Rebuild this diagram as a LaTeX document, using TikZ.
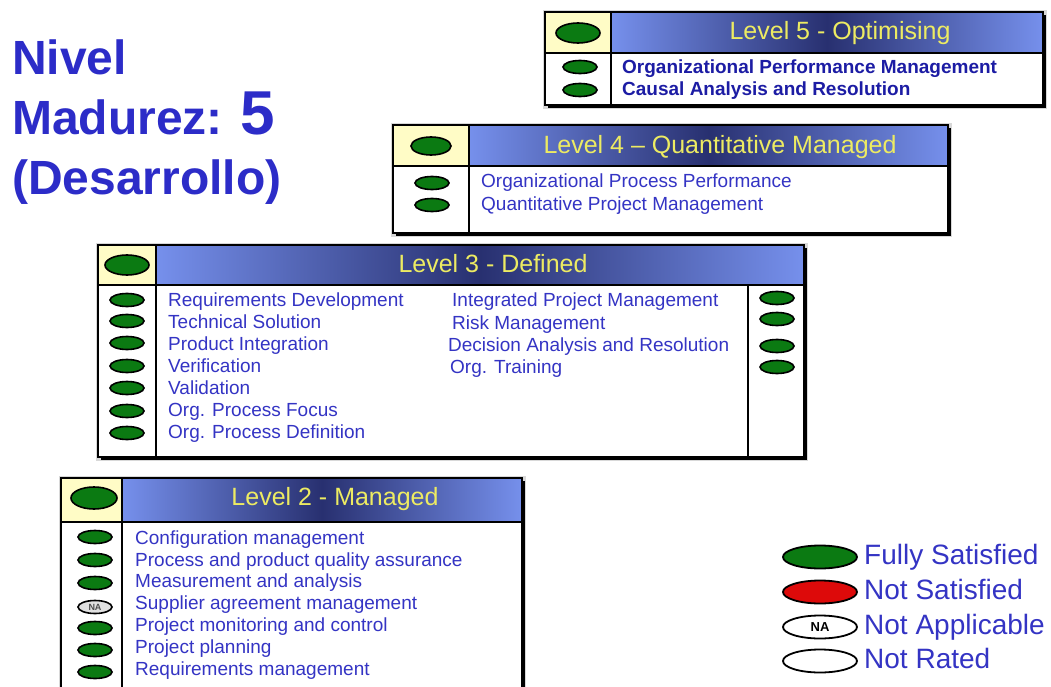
\documentclass[tikz,border=0pt]{standalone}
\usepackage{fontspec}
\setmainfont{Liberation Sans}
\usetikzlibrary{shapes.geometric}

\definecolor{okgreen}{HTML}{0B7A12}
\definecolor{nsred}{HTML}{DD0A0A}
\definecolor{hdredge}{HTML}{7690EC}
\definecolor{hdrmid}{HTML}{283070}
\definecolor{hdrtext}{HTML}{EDEB62}
\definecolor{cream}{HTML}{FFFCC6}
\definecolor{itemblue}{HTML}{3434C4}
\definecolor{navy}{HTML}{1C1CA4}
\definecolor{titleblue}{HTML}{2C2CC8}

% frame of one maturity level: x1,y1,x2,y2, x of divider, y of header bottom
\newcommand\levelframe[6]{%
  \fill[black!30, opacity=.5] (#1-2,#2-2) rectangle (#3+4,#4+4);
  \fill[black] (#1+3,#2+3) rectangle (#3+3,#4+3);
  \fill[white] (#1,#2) rectangle (#3,#4);
  \fill[cream] (#1,#2) rectangle (#5,#6);
  \shade[left color=hdredge, right color=hdredge, middle color=hdrmid] (#5,#2) rectangle (#3,#6);
  \draw[line width=2pt] (#1,#2) rectangle (#3,#4);
  \draw[line width=2pt] (#1,#6) -- (#3,#6);
  \draw[line width=2pt] (#5,#2) -- (#5,#4);
}

\tikzset{
  oval/.style={ellipse, draw=black, line width=1.6pt, inner sep=0pt,
    minimum width=34pt, minimum height=13pt},
  ok/.style={oval, fill=okgreen},
  bigok/.style={ok, minimum width=44pt, minimum height=20pt},
  na/.style={oval, fill=black!12, font=\fontsize{9}{9}\selectfont\bfseries, text=black!70},
  hdr/.style={font=\fontsize{25}{28}\selectfont, text=hdrtext, text height=18pt, text depth=5pt},
  item/.style={anchor=west, font=\fontsize{19}{21}\selectfont, text=itemblue, inner sep=0pt,
    text height=14pt, text depth=4pt},
  bolditem/.style={item, font=\fontsize{19}{21}\selectfont\bfseries, text=navy},
  legoval/.style={oval, line width=1.8pt, minimum width=74pt, minimum height=23pt},
  legtext/.style={anchor=west, font=\fontsize{28}{30}\selectfont, text=itemblue, inner sep=0pt,
    text height=20pt, text depth=6pt},
  title/.style={anchor=west, font=\fontsize{48}{50}\selectfont\bfseries, text=titleblue, inner sep=0pt,
    text height=35pt, text depth=10pt}
}

\begin{document}
\begin{tikzpicture}[x=1pt,y=-1pt]
\path[clip] (0,0) rectangle (1051,687);
\useasboundingbox (0,0) rectangle (1051,687);
\fill[white] (0,0) rectangle (1051,687);

% title
\node[title] (t1) at (12,62) {Nivel};
\node[title] (t2) at (12,122) {Madurez: {\fontsize{62}{62}\selectfont 5}};
\node[title] (t3) at (12,182) {(Desarrollo)};

% ---------- Level 5 ----------
\levelframe{545}{12}{1043}{105}{611}{53}
\node[bigok] (l5h) at (578,33) {};
\node[hdr] (l5t) at (840,33) {Level 5 - Optimising};
\node[ok] (l5a) at (580,67) {};
\node[ok] (l5b) at (580,90) {};
\node[bolditem] (l5i1) at (622,69) {Organizational Performance Management};
\node[bolditem] (l5i2) at (622,91) {Causal Analysis and Resolution};

% ---------- Level 4 ----------
\levelframe{393}{125}{948}{233}{469}{166}
\node[bigok, minimum width=40pt, minimum height=18pt] (l4h) at (431,146) {};
\node[hdr] (l4t) at (720,147) {Level 4 – Quantitative Managed};
\node[ok] (l4a) at (432,183) {};
\node[ok] (l4b) at (432,205) {};
\node[item] (l4i1) at (481,183) {Organizational Process Performance};
\node[item] (l4i2) at (481,205) {Quantitative Project Management};

% ---------- Level 3 ----------
\levelframe{98}{245}{804}{457}{156}{285}
\draw[line width=1.3pt] (748,285) -- (748,457);
\node[bigok] (l3h) at (127,265) {};
\node[hdr] (l3t) at (493,266) {Level 3 - Defined};
\foreach \y [count=\i] in {300,321,343,366,388,411,433}
  \node[ok] (l3l\i) at (127,\y) {};
\foreach \y [count=\i] in {298,319,346,367}
  \node[ok] (l3r\i) at (777,\y) {};
\node[item] (l3a) at (168,301) {Requirements Development};
\node[item] (l3b) at (168,323) {Technical Solution};
\node[item] (l3c) at (168,345) {Product Integration};
\node[item] (l3d) at (168,367) {Verification};
\node[item] (l3e) at (168,389) {Validation};
\node[item] (l3f) at (168,411) {Org. Process Focus};
\node[item] (l3g) at (168,433) {Org. Process Definition};
\node[item] (l3h1) at (452,301) {Integrated Project Management};
\node[item] (l3h2) at (452,324) {Risk Management};
\node[item] (l3h3) at (448,346) {Decision Analysis and Resolution};
\node[item] (l3h4) at (450,368) {Org. Training};

% ---------- Level 2 ----------
\levelframe{61}{478}{522}{720}{122}{522}
\node[bigok, minimum width=46pt, minimum height=22pt] (l2h) at (94,498) {};
\node[hdr] (l2t) at (335,499) {Level 2 - Managed};
\node[ok] (l2a) at (95,537) {};
\node[ok] (l2b) at (95,560) {};
\node[ok] (l2c) at (95,583) {};
\node[na] (l2d) at (95,607) {NA};
\node[ok] (l2e) at (95,628) {};
\node[ok] (l2f) at (95,650) {};
\node[ok] (l2g) at (95,672) {};
\node[item] (l2i1) at (135,539) {Configuration management};
\node[item] (l2i2) at (135,561) {Process and product quality assurance};
\node[item] (l2i3) at (135,582) {Measurement and analysis};
\node[item] (l2i4) at (135,604) {Supplier agreement management};
\node[item] (l2i5) at (135,626) {Project monitoring and control};
\node[item] (l2i6) at (135,648) {Project planning};
\node[item] (l2i7) at (135,670) {Requirements management};

% ---------- legend ----------
\node[legoval, fill=okgreen] (lg1) at (820,557) {};
\node[legoval, fill=nsred] (lg2) at (820,592) {};
\node[legoval, fill=white, font=\fontsize{13}{13}\selectfont\bfseries] (lg3) at (820,627) {NA};
\node[legoval, fill=white] (lg4) at (820,661) {};
\node[legtext] (lt1) at (864,557) {Fully Satisfied};
\node[legtext] (lt2) at (864,592) {Not Satisfied};
\node[legtext] (lt3) at (864,627) {Not Applicable};
\node[legtext] (lt4) at (864,661) {Not Rated};
\end{tikzpicture}
\end{document}
